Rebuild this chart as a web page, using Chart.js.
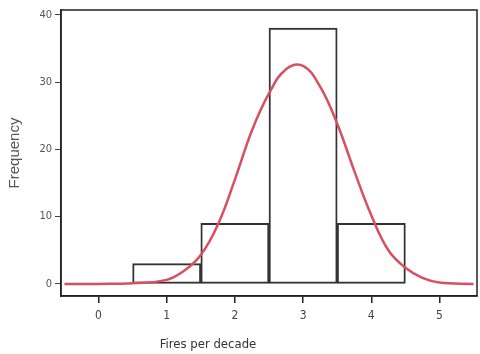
<!DOCTYPE html>
<html lang="en">
<head>
    <meta charset="UTF-8">
    <title>Fires per decade</title>
    <script src="https://cdn.jsdelivr.net/npm/chart.js"></script>
    <style>
        body { margin: 0; background: #fff; }
        #wrap { width: 480px; height: 354px; }
    </style>
</head>
<body>
    <div id="wrap"><canvas id="histChart"></canvas></div>

    <script>
        // histogram bins (centre of bin) and counts
        const binCentres = [1, 2, 3, 4];
        const binCounts = [3, 9, 38, 9];

        // fitted curve
        const curveX = [-0.5, 0, 0.5, 1, 1.25, 1.5, 1.75, 2, 2.25, 2.5, 2.75, 3, 3.25, 3.5, 3.75, 4, 4.25, 4.5, 4.75, 5, 5.5];
        const curveY = [0, 0, 0.1, 0.6, 1.9, 4.3, 8.8, 15.5, 22.8, 28.3, 31.9, 32.4, 29.3, 23.8, 16.8, 10.2, 5, 2.4, 0.9, 0.2, 0];

        const xTicks = [0, 1, 2, 3, 4, 5];
        const yTicks = [0, 10, 20, 30, 40];
        const xTitle = "Fires per decade";
        const yTitle = "Frequency";

        const narrow = "'Liberation Sans Narrow', 'DejaVu Sans Condensed', 'Arial Narrow', sans-serif";

        const framePlugin = {
            id: "frame",
            afterDraw(chart) {
                const { ctx, chartArea: a } = chart;
                ctx.save();
                ctx.strokeStyle = "#222";
                ctx.lineWidth = 1.5;
                ctx.strokeRect(a.left, a.top, a.right - a.left, a.bottom - a.top);
                ctx.fillStyle = "#333";
                ctx.font = "13px " + narrow;
                ctx.textAlign = "center";
                ctx.textBaseline = "middle";
                ctx.fillText(xTitle, 208, 345);
                ctx.restore();
            }
        };

        new Chart(document.getElementById("histChart"), {
            data: {
                datasets: [
                    {
                        type: "line",
                        data: curveX.map((x, i) => ({ x: x, y: curveY[i] })),
                        borderColor: "#d8505f",
                        borderWidth: 2.5,
                        pointRadius: 0,
                        tension: 0.4,
                        fill: false,
                        order: 0
                    },
                    {
                        type: "bar",
                        data: binCentres.map((x, i) => ({ x: x, y: binCounts[i] })),
                        backgroundColor: "rgba(255,255,255,0)",
                        borderColor: "#333",
                        borderWidth: 1.3,
                        borderSkipped: false,
                        barPercentage: 1,
                        categoryPercentage: 1,
                        grouped: false,
                        order: 1
                    }
                ]
            },
            options: {
                responsive: true,
                maintainAspectRatio: false,
                animation: false,
                layout: { padding: { top: 10, right: 3, left: 0, bottom: 0 } },
                plugins: {
                    legend: { display: false },
                    tooltip: { enabled: false }
                },
                scales: {
                    x: {
                        type: "linear",
                        min: -0.55,
                        max: 5.55,
                        offset: false,
                        afterBuildTicks: s => { s.ticks = xTicks.map(v => ({ value: v })); },
                        afterFit: s => { s.height = 58; },
                        grid: { display: true, offset: false, drawOnChartArea: false, drawTicks: true, tickLength: 7, color: "#222", lineWidth: 1.5 },
                        border: { display: true, color: "#222", width: 1.5 },
                        ticks: { color: "#444", font: { family: narrow, size: 12 }, padding: 6 }
                    },
                    y: {
                        type: "linear",
                        min: -1.8,
                        max: 40.7,
                        afterBuildTicks: s => { s.ticks = yTicks.map(v => ({ value: v })); },
                        afterFit: s => { s.width = 61; },
                        grid: { display: true, drawOnChartArea: false, drawTicks: true, tickLength: 6, color: "#444", lineWidth: 1 },
                        border: { display: true, color: "#222", width: 1.5 },
                        ticks: { color: "#555", font: { family: narrow, size: 11 }, padding: 3 },
                        title: { display: true, text: yTitle, color: "#555", font: { family: "'Liberation Sans', Arial, sans-serif", size: 15 }, padding: { top: 6, bottom: 0 } }
                    }
                }
            },
            plugins: [framePlugin]
        });
    </script>
</body>
</html>
